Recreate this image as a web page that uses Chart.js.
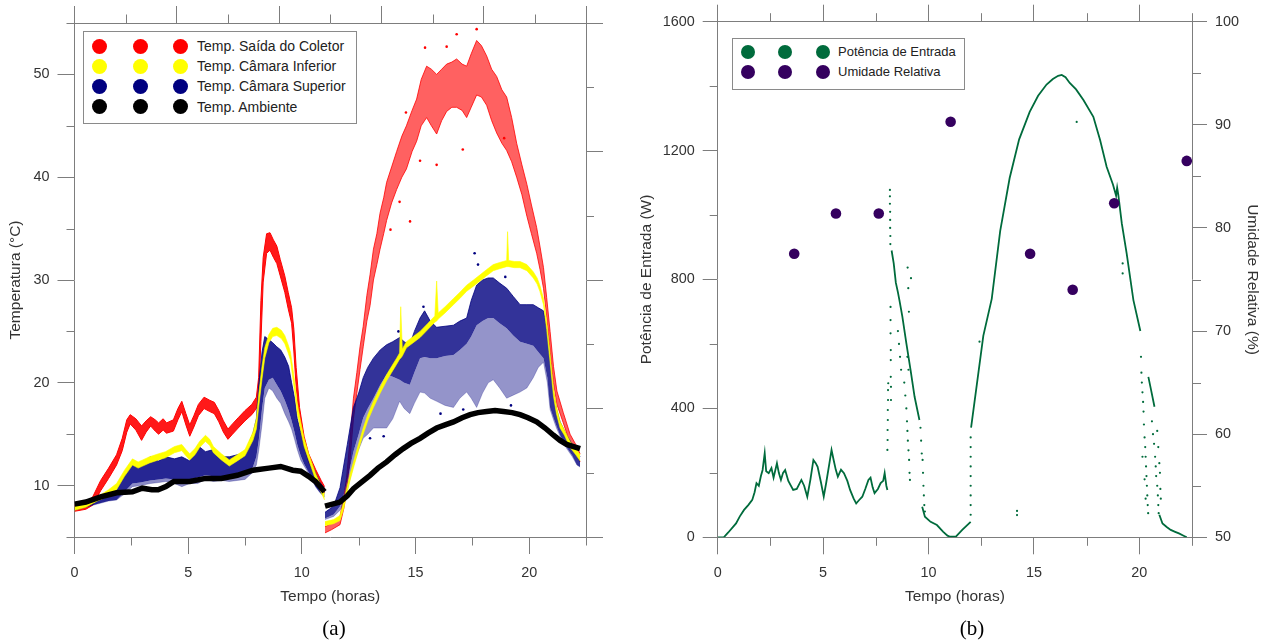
<!DOCTYPE html>
<html>
<head>
<meta charset="utf-8">
<script src="https://cdn.jsdelivr.net/npm/chart.js@4.4.1/dist/chart.umd.min.js"></script>
<style>
html,body{margin:0;padding:0;background:#fff;}
#wrap{position:relative;width:1267px;height:641px;overflow:hidden;font-family:'Liberation Sans',Arial,sans-serif;background:#fff;}
#boxA{position:absolute;left:0;top:0;width:620px;height:641px;}
#boxB{position:absolute;left:630px;top:0;width:637px;height:641px;}
.legend{position:absolute;border:1px solid #8a8a8a;background:#fff;box-sizing:border-box;}
.dot{position:absolute;border-radius:50%;}
.lab{position:absolute;color:#222;white-space:nowrap;}
.cap{position:absolute;font-family:'Liberation Serif','Times New Roman',serif;font-size:21px;color:#000;width:100px;text-align:center;line-height:24px;}
</style>
</head>
<body>
<div id="wrap">
  <div id="boxA"><canvas id="chartA"></canvas></div>
  <div id="boxB"><canvas id="chartB"></canvas></div>
  <div id="legA" class="legend" style="left:83px;top:31px;width:274px;height:93px;"></div>
  <div id="legB" class="legend" style="left:732px;top:38px;width:233px;height:52px;"></div>
  <div class="cap" style="left:284px;top:616px;">(a)</div>
  <div class="cap" style="left:922px;top:616px;">(b)</div>
</div>
<script>
// ---------------- DATA ----------------
const seriesNamesA = ['Temp. Saída do Coletor', 'Temp. Câmara Inferior', 'Temp. Câmara Superior', 'Temp. Ambiente'];
const seriesNamesB = ['Potência de Entrada', 'Umidade Relativa'];

// Panel (a): [time h, lower edge, upper edge] of each point cloud, °C
const redDay1 = [
[0,7.5,8.1],[0.5,7.7,8.3],[0.8,8.1,8.9],[1.15,9.5,10.5],[1.5,10.7,11.7],[1.85,12.0,13.0],[2.1,13.4,14.6],
[2.3,15.2,16.4],[2.45,16.0,16.9],[2.7,15.4,16.5],[2.95,14.4,15.8],[3.15,15.2,16.3],[3.35,15.8,16.7],
[3.55,15.3,16.4],[3.7,15.0,16.1],[3.9,15.4,16.5],[4.05,15.1,16.1],[4.35,15.3,16.4],[4.55,16.4,17.5],
[4.72,17.2,18.2],[4.9,15.9,17.0],[5.07,14.8,15.9],[5.25,15.7,16.8],[5.45,16.8,17.9],[5.7,17.5,18.6],
[5.95,17.2,18.3],[6.15,17.0,18.1],[6.35,16.2,17.3],[6.55,15.2,16.3],[6.75,14.5,15.5],[6.95,15.0,16.0],
[7.2,15.6,16.6],[7.5,16.3,17.3],[7.8,16.9,17.9],[8.0,17.5,18.6],[8.1,18.5,20.5],[8.2,24.0,28.0],
[8.3,29.8,32.2],[8.45,32.6,34.5],[8.6,32.9,34.6],[8.75,32.2,33.9],[8.9,31.6,33.3],[9.05,30.4,32.0],
[9.25,28.8,30.4],[9.4,27.2,28.8],[9.55,25.8,27.3],[9.65,23.0,25.2],[9.75,19.6,21.5],[9.9,16.4,17.6],
[10.1,13.8,14.8],[10.3,12.3,13.1],[10.6,10.8,11.6],[10.85,9.9,10.5],[11.0,9.3,9.9]
];
const redDay2 = [
[11.02,5.4,6.0],[11.3,5.7,6.3],[11.68,6.2,7.0],[11.85,7.8,9.0],[11.97,9.5,10.8],[12.12,12.5,14.5],
[12.27,16.5,18.5],[12.42,19.0,21.0],[12.56,21.3,23.5],[12.7,23.5,25.5],[12.86,26.0,28.5],[13.0,27.5,30.5],
[13.15,30.0,33.0],[13.3,31.5,34.5],[13.44,33.0,36.5],[13.6,34.5,38.0],[13.73,35.8,39.5],[13.95,37.5,41.0],
[14.17,38.8,42.5],[14.4,40.0,44.0],[14.6,40.8,45.0],[14.85,42.5,46.5],[15.05,43.5,47.6],[15.25,45.0,49.5],
[15.49,45.8,50.8],[15.7,45.0,50.5],[15.93,44.2,50.0],[16.15,45.5,50.5],[16.37,46.4,51.0],[16.6,46.8,51.2],
[16.81,46.8,51.5],[17.05,46.5,51.0],[17.25,45.8,50.8],[17.45,46.8,52.0],[17.69,48.0,53.3],[17.9,47.8,52.8],
[18.13,47.0,51.8],[18.35,45.5,50.5],[18.57,44.3,49.8],[18.8,43.3,48.5],[19.01,42.6,47.8],[19.23,41.5,45.8],
[19.45,40.0,43.3],[19.68,38.3,41.2],[19.9,36.2,39.3],[20.1,34.5,37.3],[20.33,32.6,35.1],[20.48,31.0,33.2],
[20.63,29.2,31.2],[20.77,26.5,28.3],[20.92,23.2,25.0],[21.07,20.0,21.6],[21.22,17.9,19.2],[21.5,16.1,17.1],
[21.8,14.1,15.0],[22.05,13.2,14.0],[22.24,12.3,13.1]
];
// isolated collector readings [time h, °C]
const redStray = [[15.42,52.6],[17.69,54.4],[16.37,52.7],[16.81,53.9],[15.93,41.2],[17.08,42.7],[14.76,35.7],
[14.58,46.3],[15.2,41.6],[13.9,34.9],[18.9,43.8],[14.3,37.6]];

const yellowDay1 = [
[0,7.6,8.0],[0.5,7.9,8.3],[1.0,8.5,8.9],[1.5,9.0,9.6],[1.85,9.6,10.2],[2.2,10.9,11.5],[2.55,12.0,12.6],
[2.8,11.7,12.3],[3.0,11.9,12.5],[3.3,12.2,12.8],[3.7,12.5,13.1],[4.0,12.7,13.3],[4.4,13.2,13.8],
[4.72,13.4,14.0],[4.9,12.9,13.5],[5.07,12.5,13.1],[5.3,13.0,13.6],[5.5,13.7,14.3],[5.76,14.3,14.9],
[5.95,13.9,14.5],[6.11,13.2,13.8],[6.46,12.5,13.1],[6.81,11.9,12.5],[7.16,12.4,13.0],[7.5,12.9,13.5],
[7.85,14.4,15.2],[8.0,15.5,16.5],[8.11,17.8,19.0],[8.25,20.4,21.6],[8.37,22.4,23.4],[8.55,23.9,24.7],
[8.72,24.5,25.3],[8.9,24.6,25.4],[9.1,24.3,25.1],[9.25,23.8,24.6],[9.4,22.9,23.7],[9.5,22.2,23.0],
[9.6,20.5,21.5],[9.68,19.2,20.2],[9.8,17.0,18.0],[9.95,15.4,16.2],[10.1,13.8,14.6],[10.3,12.5,13.1],
[10.6,10.6,11.2],[10.8,9.6,10.2],[11.0,8.6,9.2]
];
const yellowDay2 = [
[11.02,6.1,6.5],[11.4,6.3,6.7],[11.68,6.6,7.1],[11.85,7.8,8.5],[11.97,9.1,9.7],[12.12,10.5,11.1],
[12.27,11.7,12.3],[12.5,13.5,14.1],[12.7,15.0,15.6],[12.9,16.3,16.9],[13.15,17.6,18.2],[13.45,19.0,19.6],
[13.73,20.2,20.8],[13.95,21.0,21.6],[14.17,21.8,22.4],[14.3,22.3,22.9],[14.35,22.4,27.4],[14.42,22.6,23.3],
[14.6,23.4,24.0],[14.9,23.9,24.5],[15.2,24.4,25.0],[15.55,25.2,25.8],[15.85,25.9,26.5],[15.93,26.0,29.9],
[16.0,26.2,26.8],[16.3,26.8,27.4],[16.67,27.6,28.2],[16.95,28.2,28.8],[17.25,28.9,29.5],[17.55,29.4,30.0],
[17.84,29.9,30.5],[18.12,30.4,31.0],[18.42,30.9,31.5],[18.7,31.1,31.7],[19.01,31.3,31.9],[19.05,31.3,34.7],
[19.1,31.3,31.9],[19.35,31.2,31.8],[19.6,31.2,31.8],[19.9,30.9,31.5],[20.18,30.2,30.8],[20.35,29.6,30.2],
[20.47,28.9,29.5],[20.63,27.6,28.2],[20.77,25.2,26.0],[20.92,22.0,22.8],[21.07,18.7,19.5],[21.2,17.0,17.7],
[21.36,15.6,16.2],[21.55,14.9,15.4],[21.8,13.7,14.3],[22.05,13.0,13.6],[22.24,12.4,13.0]
];
// upper chamber: [time h, lowest scattered point, lower edge of dense core, upper edge]
const blueDay1 = [
[0,7.6,7.6,8.0],[0.5,7.9,7.9,8.3],[1.0,8.2,8.2,8.8],[1.5,8.5,8.5,9.4],[1.85,8.6,8.6,9.9],[2.2,9.2,9.4,11.0],
[2.55,9.9,10.2,12.2],[2.9,10.0,10.3,12.0],[3.33,10.2,10.5,12.8],[3.7,10.3,10.6,12.4],[4.02,10.4,10.7,12.8],
[4.4,10.2,10.6,12.6],[4.72,9.9,10.4,12.8],[5.07,10.2,10.6,12.4],[5.42,10.2,10.8,13.9],[5.76,10.6,11.0,13.3],
[6.11,10.4,10.9,13.5],[6.46,10.5,10.9,12.8],[6.81,10.4,10.8,12.8],[7.16,10.5,10.9,13.0],[7.5,10.6,11.0,13.2],
[7.85,11.3,11.8,15.1],[8.0,12.0,12.8,16.5],[8.11,13.5,14.5,20.0],[8.25,16.0,17.5,23.0],[8.37,18.5,19.5,24.5],
[8.55,19.5,20.3,24.2],[8.72,19.2,20.5,23.9],[8.9,18.5,19.8,23.5],[9.07,18.0,19.2,23.2],[9.25,17.0,18.3,22.5],
[9.42,16.2,17.3,21.6],[9.55,15.5,16.3,20.0],[9.68,14.5,15.2,18.5],[9.8,13.5,14.0,16.5],[9.95,12.5,12.9,15.2],
[10.1,11.9,12.1,14.0],[10.3,11.2,11.3,12.8],[10.6,9.9,9.9,11.2],[10.8,9.3,9.3,10.3],[11.0,8.9,8.9,9.7]
];
const blueDay2 = [
[11.02,6.7,6.8,7.4],[11.4,7.0,7.2,8.0],[11.68,7.6,8.0,9.8],[11.8,8.1,8.8,11.4],[12.0,9.5,10.5,14.0],
[12.27,12.0,13.3,17.6],[12.5,13.5,15.0,19.0],[12.7,14.6,16.6,20.5],[12.9,15.0,17.5,21.5],[13.15,15.6,18.5,22.4],
[13.45,15.6,19.8,23.2],[13.73,15.6,20.8,23.7],[14.0,16.5,20.6,24.0],[14.3,18.2,20.3,24.4],[14.5,17.5,20.0,24.0],
[14.75,17.0,19.8,23.7],[14.95,18.0,21.0,25.0],[15.2,19.1,22.4,26.3],[15.4,19.0,22.5,27.0],[15.65,18.5,22.4,26.0],
[15.93,18.2,22.4,25.4],[16.3,17.8,22.6,25.5],[16.67,17.6,22.7,25.6],[16.95,18.5,23.2,26.0],[17.25,19.1,23.8,26.3],
[17.45,18.5,24.5,28.0],[17.69,17.6,25.6,29.5],[17.95,19.0,26.0,30.0],[18.2,20.0,26.3,30.2],[18.42,20.3,26.3,30.2],
[18.7,19.5,25.8,29.7],[19.01,18.5,25.3,29.2],[19.3,18.8,24.6,28.4],[19.6,19.1,24.0,27.6],[19.9,19.5,23.8,27.6],
[20.18,20.5,23.6,27.6],[20.4,21.5,23.0,27.3],[20.63,22.0,22.4,27.0],[20.8,20.0,20.5,25.0],[20.92,17.4,17.6,22.4],
[21.07,16.4,16.6,19.1],[21.2,15.6,15.8,17.5],[21.36,14.8,14.9,16.2],[21.65,13.6,13.7,14.9],[21.9,12.8,12.9,14.0],
[22.1,12.0,12.0,13.3],[22.24,11.8,11.8,12.8]
];
const blueStray = [[17.6,32.6],[17.75,31.5],[18.3,31.0],[15.35,27.4],[14.25,25.0],[13.0,14.6],[13.6,14.8],
[16.1,17.0],[17.1,17.4],[19.2,17.8],[18.95,30.3]];

// Ambient: [time h, °C]
const blackDay1 = [
[0,8.2],[0.5,8.4],[1.15,8.9],[1.85,9.3],[2.55,9.4],[2.98,9.75],[3.4,9.6],[3.68,9.6],[4.02,9.9],[4.37,10.4],
[5.07,10.4],[5.76,10.7],[6.46,10.7],[7.16,11.0],[7.85,11.5],[8.55,11.7],[9.07,11.86],[9.6,11.5],[9.95,11.4],
[10.3,10.9],[10.6,10.4],[11.0,9.4]
];
const blackDay2 = [
[11.02,8.0],[11.68,8.4],[12.0,9.0],[12.27,9.7],[12.6,10.3],[13.0,11.0],[13.35,11.7],[13.73,12.3],[14.1,13.0],
[14.46,13.6],[14.8,14.1],[15.2,14.6],[15.55,15.1],[15.93,15.6],[16.3,15.9],[16.67,16.2],[17.05,16.6],[17.4,16.9],
[17.75,17.1],[18.13,17.2],[18.5,17.3],[18.87,17.2],[19.25,17.1],[19.6,16.9],[19.95,16.6],[20.33,16.2],[20.7,15.6],
[21.07,14.9],[21.36,14.4],[21.65,14.0],[21.95,13.8],[22.24,13.6]
];

// Panel (b): input power, continuous stretches [time h, W]
const potSeg1 = [
[0,0],[0.29,0],[0.5,15],[0.87,43],[1.05,65],[1.25,85],[1.45,100],[1.64,116],[1.75,140],[1.84,168],[1.95,160],
[2.05,190],[2.13,209],[2.23,261],[2.3,205],[2.42,199],[2.55,215],[2.65,185],[2.81,230],[2.9,200],[3.0,178],
[3.1,200],[3.2,209],[3.35,175],[3.58,147],[3.75,150],[3.97,178],[4.1,160],[4.25,126],[4.4,180],[4.54,240],
[4.65,230],[4.74,219],[4.9,170],[5.03,126],[5.15,170],[5.3,230],[5.4,271],[5.5,240],[5.6,210],[5.7,188],
[5.85,210],[5.99,199],[6.15,175],[6.28,147],[6.45,120],[6.57,105],[6.7,115],[6.86,126],[7.0,150],[7.15,178],
[7.25,185],[7.35,155],[7.44,137],[7.6,150],[7.73,168],[7.85,175],[7.92,199],[8.0,160],[8.05,147]
];
const potSeg2 = [[8.25,890],[8.35,850],[8.45,790],[8.55,760],[8.62,736],[8.76,685],[8.95,602],[9.15,519],[9.34,436],[9.57,364]];
const potSeg3 = [[9.7,95],[9.83,64],[10.1,48],[10.4,38],[10.7,17],[10.9,5],[11.0,2],[11.3,2],[11.6,23],[12.0,48]];
const potSeg4 = [
[12.02,340],[12.3,478],[12.6,625],[13.0,740],[13.4,950],[13.85,1115],[14.3,1235],[14.8,1320],[15.2,1370],
[15.6,1405],[15.9,1422],[16.15,1432],[16.32,1435],[16.5,1428],[16.7,1410],[17.0,1390],[17.35,1357],
[17.82,1305],[18.14,1233],[18.45,1150],[18.75,1095],[18.9,1060],[18.95,1085],[19.0,1065],[19.17,974],
[19.4,881],[19.72,736],[20.05,640]
];
const potSeg5 = [[20.43,498],[20.55,460],[20.72,405]];
const potSeg6 = [[20.95,70],[21.1,43],[21.3,32],[21.49,23],[21.7,17],[21.88,12],[22.1,5],[22.25,0]];
const potDots = [
[8.17,1078],[8.17,1058],[8.17,1035],[8.18,1010],[8.18,985],[8.18,960],[8.19,935],[8.19,910],
[8.05,271],[8.06,302],[8.06,333],[8.07,364],[8.07,395],[8.08,426],[8.08,457],[8.09,478],
[8.2,715],[8.2,674],[8.2,633],[8.21,581],[8.21,550],[8.21,498],[8.22,467],[8.22,426],
[8.55,640],[8.6,600],[8.65,560],[8.7,520],[8.85,480],[8.9,440],[8.95,400],[8.98,360],[9.0,330],[9.02,300],
[9.05,270],[9.08,240],[9.1,200],[9.12,178],[9.0,560],[9.05,520],[9.01,837],[9.04,773],[9.17,804],[9.07,700],
[9.62,340],[9.65,300],[9.68,260],[9.72,240],[9.74,200],[9.76,160],[9.78,130],[9.8,100],[9.83,80],
[12.0,70],[12.0,100],[12.0,130],[12.0,160],[12.0,190],[12.0,220],[12.0,250],[12.0,280],[12.0,310],
[12.42,607],[14.2,82],[14.2,69],[17.03,1289],[19.21,850],[19.21,819],
[20.08,560],[20.1,511],[20.12,480],[20.15,450],[20.18,420],[20.2,390],[20.22,350],[20.25,310],[20.28,280],
[20.3,250],[20.32,220],[20.34,190],[20.36,160],[20.38,130],[20.4,100],[20.42,75],[20.15,250],[20.25,180],[20.3,120],
[20.6,360],[20.65,320],[20.7,290],[20.75,250],[20.78,220],[20.8,190],[20.85,160],[20.88,130],[20.9,100],
[20.92,75],[20.95,230],[20.98,200],[21.0,150],[21.02,120],[20.85,330],[20.9,280]
];
const umidT = [3.63, 5.61, 7.64, 11.05, 14.82, 16.84, 18.81, 22.25];
const umidV = [77.5, 81.4, 81.4, 90.3, 77.5, 74.0, 82.4, 86.5];

// Axis ticks
const xMajor = [0, 5, 10, 15, 20];
const xMinor = [2.5, 7.5, 12.5, 17.5, 22.5];
const tempMajor = [10, 20, 30, 40, 50];
const tempMinor = [5, 15, 25, 35, 45, 55];
const frameTopMajorA = [0, 2, 4, 6, 8, 10];
const frameTopMinorA = [1, 3, 5, 7, 9];
const frameRightMajorA = [0, 2, 4, 6, 8];
const frameRightMinorA = [1, 3, 5, 7];
const potMajor = [0, 400, 800, 1200, 1600];
const potMinor = [200, 600, 1000, 1400];
const umidMajor = [50, 60, 70, 80, 90, 100];
const umidMinor = [55, 65, 75, 85, 95];

// ---------------- STYLE ----------------
const FONT = "'Liberation Sans', Arial, sans-serif";
const AXIS = '#7d7d7d';
const TXT = '#333333';
const colorsA = ['#ff0000', '#ffff00', '#000080', '#000000'];
const GREEN = '#006b3c';
const PURPLE = '#35005f';

function at(vals) { return function (axis) { axis.ticks = vals.map(v => ({ value: v })); }; }

const minorTicks = {
  id: 'minorTicks',
  afterDraw(chart, args, opts) {
    const ctx = chart.ctx;
    ctx.save();
    ctx.strokeStyle = AXIS;
    ctx.lineWidth = 1;
    (opts.specs || []).forEach(sp => {
      const s = chart.scales[sp.axis];
      sp.values.forEach(v => {
        const p = Math.round(s.getPixelForValue(v)) + 0.5;
        ctx.beginPath();
        if (s.position === 'bottom') { ctx.moveTo(p, s.top); ctx.lineTo(p, s.top + sp.len); }
        else if (s.position === 'top') { ctx.moveTo(p, s.bottom); ctx.lineTo(p, s.bottom - sp.len); }
        else if (s.position === 'left') { ctx.moveTo(s.right, p); ctx.lineTo(s.right - sp.len, p); }
        else { ctx.moveTo(s.left, p); ctx.lineTo(s.left + sp.len, p); }
        ctx.stroke();
      });
    });
    ctx.restore();
  }
};

function axis(o) {
  return {
    type: 'linear', axis: o.axis, position: o.position, min: o.min, max: o.max,
    afterBuildTicks: at(o.major),
    afterFit: function (s) { if (o.w !== undefined) s.width = o.w; else s.height = o.h; },
    ticks: { display: !!o.labels, font: { family: FONT, size: 14.4 }, color: TXT, padding: o.pad || 8,
             maxRotation: 0, autoSkip: false, callback: v => String(v) },
    grid: { drawOnChartArea: false, drawTicks: true, tickLength: o.len, color: AXIS, tickColor: AXIS, lineWidth: 1 },
    border: { display: true, color: AXIS, width: 1 },
    title: o.title ? { display: true, text: o.title, font: { family: FONT, size: 15.5 }, color: TXT, padding: o.tpad }
                   : { display: false }
  };
}

function line(rows, idx, color, w, fill, bg) {
  return { data: rows.map(r => ({ x: r[0], y: r[idx] })), borderColor: color, backgroundColor: bg || color,
           borderWidth: w, fill: fill || false, pointRadius: 0, tension: 0 };
}
function band(rows, color, fillColor, w) {
  return [ line(rows, 2, color, w, '+1', fillColor), line(rows, 1, color, w) ];
}
function cloud(rows, color, coreFill, sparseFill) {
  return [ line(rows, 3, color, 0.8, '+1', coreFill), line(rows, 2, sparseFill, 0, '+1', sparseFill),
           line(rows, 1, sparseFill, 0.6) ];
}
function dots(rows, color, r, yAxisID) {
  return { data: rows.map(p => ({ x: p[0], y: p[1] })), yAxisID: yAxisID || 'y', showLine: false,
           pointRadius: r, pointBackgroundColor: color, pointBorderColor: color, pointBorderWidth: 0 };
}

const common = { responsive: true, maintainAspectRatio: false, animation: false, devicePixelRatio: 1, events: [] };

// ---------------- CHART A ----------------
new Chart(document.getElementById('chartA'), {
  type: 'line',
  data: {
    datasets: [
      line(blackDay1, 1, colorsA[3], 5.5),
      line(blackDay2, 1, colorsA[3], 5.5),
      ...band(yellowDay1, colorsA[1], colorsA[1], 0.6),
      ...band(yellowDay2, colorsA[1], colorsA[1], 0.6),
      dots(blueStray, colorsA[2], 1.3),
      ...cloud(blueDay1, colorsA[2], 'rgba(0,0,128,0.85)', 'rgba(0,0,128,0.45)'),
      ...cloud(blueDay2, colorsA[2], 'rgba(0,0,128,0.8)', 'rgba(0,0,128,0.42)'),
      dots(redStray, colorsA[0], 1.3),
      ...band(redDay1, colorsA[0], 'rgba(255,0,0,0.9)', 1.0),
      ...band(redDay2, colorsA[0], 'rgba(255,0,0,0.62)', 0.8)
    ]
  },
  options: Object.assign({}, common, {
    layout: { padding: { left: 0, right: 14, top: 3, bottom: 26 } },
    plugins: {
      legend: { display: false }, tooltip: { enabled: false },
      minorTicks: { specs: [
        { axis: 'x', values: xMinor, len: 8.5 },
        { axis: 'y', values: tempMinor, len: 8 },
        { axis: 'xt', values: frameTopMinorA, len: 8.5 },
        { axis: 'yr', values: frameRightMinorA, len: 8 }
      ] }
    },
    scales: {
      x: axis({ axis: 'x', position: 'bottom', min: 0, max: 22.5, major: xMajor, h: 78, len: 17, labels: true, pad: 10,
                title: 'Tempo (horas)', tpad: { top: 0, bottom: 9 } }),
      y: axis({ axis: 'y', position: 'left', min: 5, max: 55, major: tempMajor, w: 74.5, len: 17, labels: true, pad: 8,
                title: 'Temperatura (°C)', tpad: { top: 6, bottom: 0 } }),
      xt: axis({ axis: 'x', position: 'top', min: 0, max: 10, major: frameTopMajorA, h: 20, len: 17 }),
      yr: axis({ axis: 'y', position: 'right', min: 0, max: 8, major: frameRightMajorA, w: 20, len: 17 })
    }
  }),
  plugins: [minorTicks]
});

// ---------------- CHART B ----------------
const potLine = seg => ({ data: seg.map(r => ({ x: r[0], y: r[1] })), yAxisID: 'y', borderColor: GREEN,
                          borderWidth: 1.8, fill: false, pointRadius: 0, tension: 0 });
new Chart(document.getElementById('chartB'), {
  type: 'line',
  data: {
    datasets: [
      dots(umidT.map((t, i) => [t, umidV[i]]), PURPLE, 5.3, 'y2'),
      potLine(potSeg1), potLine(potSeg2), potLine(potSeg3), potLine(potSeg4), potLine(potSeg5), potLine(potSeg6),
      dots(potDots, GREEN, 1.1)
    ]
  },
  options: Object.assign({}, common, {
    layout: { padding: { left: 0, right: 0, top: 0, bottom: 26 } },
    plugins: {
      legend: { display: false }, tooltip: { enabled: false },
      minorTicks: { specs: [
        { axis: 'x', values: xMinor, len: 8.5 },
        { axis: 'xt', values: xMinor, len: 8.5 },
        { axis: 'y', values: potMinor, len: 8 },
        { axis: 'y2', values: umidMinor, len: 9 }
      ] }
    },
    scales: {
      x: axis({ axis: 'x', position: 'bottom', min: 0, max: 22.5, major: xMajor, h: 77.7, len: 17, labels: true, pad: 10,
                title: 'Tempo (horas)', tpad: { top: 0, bottom: 9 } }),
      y: axis({ axis: 'y', position: 'left', min: 0, max: 1600, major: potMajor, w: 87.7, len: 15, labels: true, pad: 8,
                title: 'Potência de Entrada (W)', tpad: { top: 7, bottom: 0 } }),
      y2: axis({ axis: 'y', position: 'right', min: 50, max: 100, major: umidMajor, w: 75, len: 15, labels: true, pad: 8,
                 title: 'Umidade Relativa (%)', tpad: { top: 5, bottom: 0 } }),
      xt: axis({ axis: 'x', position: 'top', min: 0, max: 22.5, major: xMajor, h: 21.7, len: 17 })
    }
  }),
  plugins: [minorTicks]
});

// ---------------- HTML LEGENDS ----------------
function legend(id, names, colors, o) {
  const el = document.getElementById(id);
  names.forEach((name, i) => {
    const cy = o.rowY[i];
    o.dotX.forEach(cx => {
      const d = document.createElement('div');
      d.className = 'dot';
      d.style.cssText = `left:${cx - o.d / 2}px;top:${cy - o.d / 2}px;width:${o.d}px;height:${o.d}px;background:${colors[i]};`;
      el.appendChild(d);
    });
    const t = document.createElement('div');
    t.className = 'lab';
    t.textContent = name;
    t.style.cssText = `left:${o.textX}px;top:${cy - 10}px;line-height:20px;font-size:${o.fs}px;`;
    el.appendChild(t);
  });
}
legend('legA', seriesNamesA, colorsA, { rowY: [14, 34, 54, 74.5], dotX: [15.5, 56.5, 96.5], d: 15, textX: 113, fs: 14 });
legend('legB', seriesNamesB, [GREEN, PURPLE], { rowY: [13, 33], dotX: [14.5, 52, 89.5], d: 14, textX: 105, fs: 13 });
</script>
</body>
</html>
